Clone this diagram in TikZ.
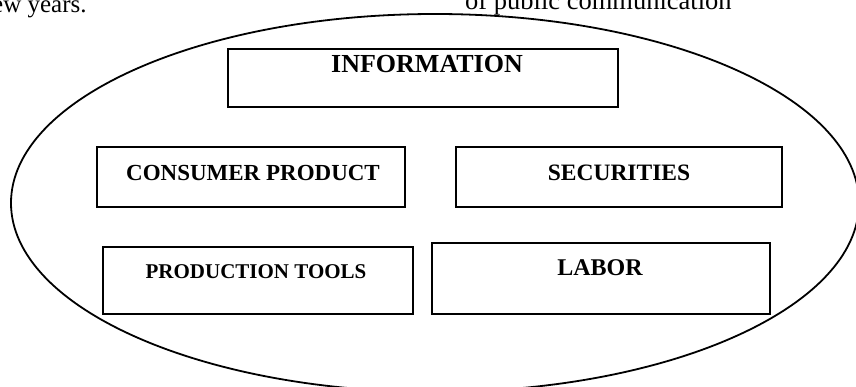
\documentclass[tikz,border=0pt]{standalone}
\usepackage{fontspec}
\setmainfont{Liberation Serif}
\begin{document}
\begin{tikzpicture}[x=1pt,y=-1pt,
  box/.style={draw, line width=1.9pt, rectangle, inner sep=0pt, outer sep=0pt},
  lbl/.style={anchor=base, inner sep=0pt, font=\bfseries},
  toptxt/.style={anchor=base west, inner sep=0pt}]
\useasboundingbox (0,0) rectangle (856,387);
% top cut-off text
\node[toptxt, font=\fontsize{25}{30}\selectfont] (t1) at (-8,13) {ew years.};
\node[toptxt, font=\fontsize{26.5}{30}\selectfont] (t2) at (465,10) {of public communication};
% outer ellipse
\draw[line width=1.8pt] (435,203) ellipse [x radius=424pt, y radius=189pt];
% boxes
\node[box, minimum width=390pt, minimum height=58pt] (info) at (423,78) {};
\node[box, minimum width=308pt, minimum height=60pt] (cons) at (251,177) {};
\node[box, minimum width=326pt, minimum height=60pt] (sec) at (619,177) {};
\node[box, minimum width=310pt, minimum height=67pt] (prod) at (258,280.5) {};
\node[box, minimum width=338pt, minimum height=71pt] (lab) at (601,278.5) {};
% labels
\node[lbl, font=\bfseries\fontsize{26}{30}\selectfont] (infot) at (427,73) {INFORMATION};
\node[lbl, font=\bfseries\fontsize{23}{28}\selectfont] (const) at (253,181) {CONSUMER PRODUCT};
\node[lbl, font=\bfseries\fontsize{23.5}{28}\selectfont] (sect) at (619,181) {SECURITIES};
\node[lbl, font=\bfseries\fontsize{21}{26}\selectfont] (prodt) at (256,279) {PRODUCTION TOOLS};
\node[lbl, font=\bfseries\fontsize{24}{28}\selectfont] (labt) at (600,276) {LABOR};
\end{tikzpicture}
\end{document}
